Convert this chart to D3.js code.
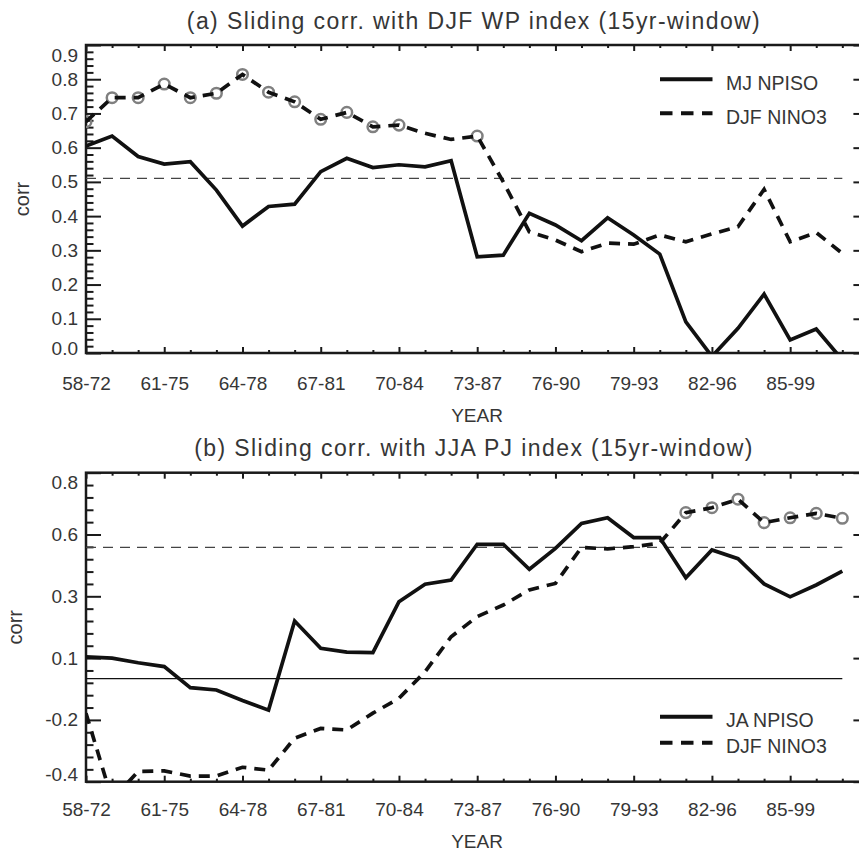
<!DOCTYPE html>
<meta charset="utf-8">
<style>
body { margin: 0; background: #fff; }
text { font-family: "Liberation Sans", Arial, sans-serif; fill: #363636; }
.frame { fill: none; stroke: #1a1a1a; stroke-width: 2.5px; }
.solid { fill: none; stroke: #111; stroke-width: 3.7px; }
.dashed { fill: none; stroke: #111; stroke-width: 3.7px; stroke-dasharray: 11,8; }
.ref { fill: none; stroke: #444; stroke-width: 1.2px; stroke-dasharray: 10,7; }
.zero { fill: none; stroke: #111; stroke-width: 1.3px; }
.sig { fill: none; stroke: #808080; stroke-width: 2.5px; }
</style>
<body>
<script src="https://d3js.org/d3.v7.min.js"></script>
<script>
// tick labels along the x axis (15-yr windows, one every 3 years)
var xTickLabels = ["58-72", "61-75", "64-78", "67-81", "70-84", "73-87", "76-90", "79-93", "82-96", "85-99"];

// (a) sliding corr. with DJF WP index
var wpNpiso = [0.605, 0.634, 0.574, 0.552, 0.559, 0.476, 0.371, 0.428, 0.435, 0.530,
               0.569, 0.542, 0.550, 0.544, 0.562, 0.281, 0.286, 0.408, 0.374, 0.328,
               0.395, 0.345, 0.289, 0.091, -0.01, 0.072, 0.172, 0.038, 0.070, -0.02];
var wpNino3 = [0.676, 0.746, 0.746, 0.786, 0.746, 0.759, 0.814, 0.762, 0.734, 0.683,
               0.703, 0.661, 0.666, 0.642, 0.624, 0.634, 0.500, 0.354, 0.330, 0.296,
               0.321, 0.318, 0.345, 0.325, 0.348, 0.369, 0.478, 0.325, 0.352, 0.291];
var wpNino3Sig = [0, 1, 2, 3, 4, 5, 6, 7, 8, 9, 10, 11, 12, 15];
var wpThreshold = 0.51;
var wpYTicks = [0, 0.1, 0.2, 0.3, 0.4, 0.5, 0.6, 0.7, 0.8, 0.9];
var wpYLabels = ["0.0", "0.1", "0.2", "0.3", "0.4", "0.5", "0.6", "0.7", "0.8", "0.9"];

// (b) sliding corr. with JJA PJ index
var pjNpiso = [0.085, 0.080, 0.062, 0.047, -0.035, -0.044, -0.085, -0.122, 0.224, 0.118,
               0.103, 0.101, 0.299, 0.367, 0.383, 0.522, 0.522, 0.425, 0.506, 0.603,
               0.625, 0.548, 0.548, 0.392, 0.500, 0.466, 0.368, 0.318, 0.364, 0.418];
var pjNino3 = [-0.134, -0.47, -0.36, -0.358, -0.378, -0.378, -0.344, -0.355, -0.231, -0.193,
               -0.199, -0.134, -0.076, 0.027, 0.163, 0.241, 0.286, 0.345, 0.370, 0.510,
               0.504, 0.513, 0.526, 0.645, 0.664, 0.697, 0.606, 0.625, 0.642, 0.623];
var pjNino3Sig = [23, 24, 25, 26, 27, 28, 29];
var pjThreshold = 0.51;
var pjYTicks = [-0.4, -0.16, 0.08, 0.32, 0.56, 0.8];
var pjYLabels = ["-0.4", "-0.2", "0.1", "0.3", "0.6", "0.8"];

var svg = d3.select("body").append("svg")
    .attr("width", 859)
    .attr("height", 851);

var nYears = 30;
var x = d3.scaleLinear().domain([0, nYears]).range([86, 868.4]);
var xMajor = d3.range(0, nYears + 1, 3);
var xMinor = d3.range(0, nYears + 1).filter(function(d) { return d % 3 != 0; });

function minorValues(ticks) {
  var out = [];
  for (var i = 0; i < ticks.length - 1; i++) {
    var step = (ticks[i + 1] - ticks[i]) / 5;
    for (var k = 1; k < 5; k++) out.push(ticks[i] + k * step);
  }
  return out;
}

function drawPanel(p) {
  var y = d3.scaleLinear().domain([p.yTicks[0], p.yTicks[p.yTicks.length - 1]]).range([p.bottom, p.top]);
  var g = svg.append("g");

  svg.append("clipPath").attr("id", "clip" + p.id)
    .append("rect")
      .attr("x", x(0)).attr("y", p.top)
      .attr("width", x(nYears) - x(0)).attr("height", p.bottom - p.top);

  // title
  g.append("text")
      .attr("x", 474).attr("y", p.top - 16.5)
      .attr("text-anchor", "middle")
      .style("font-size", "23px")
      .style("letter-spacing", "1.4px")
      .text(p.title);

  // axes: left with labels, right/top without
  var yMinor = minorValues(p.yTicks);
  var left = g.append("g").attr("transform", "translate(" + x(0) + ",0)")
      .call(d3.axisLeft(y).tickValues(p.yTicks).tickSizeInner(-15).tickSizeOuter(0).tickPadding(8)
        .tickFormat(function(d, i) { return p.yLabels[i]; }));
  left.selectAll(".tick text")
      .style("font-size", "19px")
      .attr("y", function(d, i) { return i == 0 ? p.lowShift : (i == p.yTicks.length - 1 ? 10 : 0); });
  g.append("g").attr("transform", "translate(" + x(0) + ",0)")
      .call(d3.axisLeft(y).tickValues(yMinor).tickSizeInner(-7.5).tickSizeOuter(0).tickFormat(""));
  g.append("g").attr("transform", "translate(" + x(nYears) + ",0)")
      .call(d3.axisRight(y).tickValues(p.yTicks).tickSizeInner(-15).tickSizeOuter(0).tickFormat(""));
  g.append("g").attr("transform", "translate(" + x(nYears) + ",0)")
      .call(d3.axisRight(y).tickValues(yMinor).tickSizeInner(-7.5).tickSizeOuter(0).tickFormat(""));

  var bottom = g.append("g").attr("transform", "translate(0," + p.bottom + ")")
      .call(d3.axisBottom(x).tickValues(xMajor).tickSizeInner(-6).tickSizeOuter(0)
        .tickFormat(function(d, i) { return xTickLabels[i] || ""; }));
  bottom.selectAll(".tick text")
      .style("font-size", "19px")
      .attr("y", p.xLabelGap).attr("dy", 0);
  g.append("g").attr("transform", "translate(0," + p.bottom + ")")
      .call(d3.axisBottom(x).tickValues(xMinor).tickSizeInner(-3).tickSizeOuter(0).tickFormat(""));
  g.append("g").attr("transform", "translate(0," + p.top + ")")
      .call(d3.axisTop(x).tickValues(xMajor).tickSizeInner(-6).tickSizeOuter(0).tickFormat(""));
  g.append("g").attr("transform", "translate(0," + p.top + ")")
      .call(d3.axisTop(x).tickValues(xMinor).tickSizeInner(-3).tickSizeOuter(0).tickFormat(""));

  g.selectAll(".domain").remove();
  g.selectAll(".tick line").attr("stroke", "#1a1a1a").attr("stroke-width", 2);

  g.append("rect").attr("class", "frame")
      .attr("x", x(0)).attr("y", p.top)
      .attr("width", x(nYears) - x(0)).attr("height", p.bottom - p.top);

  // axis titles
  g.append("text")
      .attr("x", 477).attr("y", p.bottom + p.xTitleGap)
      .attr("text-anchor", "middle")
      .style("font-size", "19px")
      .text("YEAR");
  g.append("text")
      .attr("transform", "translate(" + p.corrX + "," + ((p.top + p.bottom) / 2) + ") rotate(-90)")
      .attr("text-anchor", "middle")
      .style("font-size", "20px")
      .text("corr");

  var plot = g.append("g").attr("clip-path", "url(#clip" + p.id + ")");

  // significance line and zero line
  plot.append("line").attr("class", "ref")
      .attr("x1", x(0)).attr("x2", x(nYears - 1))
      .attr("y1", y(p.threshold)).attr("y2", y(p.threshold));
  if (p.zeroLine) {
    plot.append("line").attr("class", "zero")
        .attr("x1", x(0)).attr("x2", x(nYears - 1))
        .attr("y1", y(0)).attr("y2", y(0));
  }

  var line = d3.line()
      .x(function(d, i) { return x(i); })
      .y(function(d) { return y(d); });

  plot.selectAll("circle.sig")
      .data(p.sig)
    .enter().append("circle")
      .attr("class", "sig")
      .attr("cx", function(i) { return x(i); })
      .attr("cy", function(i) { return y(p.nino3[i]); })
      .attr("r", 5.3);

  plot.append("path").datum(p.npiso).attr("class", "solid").attr("d", line);
  plot.append("path").datum(p.nino3).attr("class", "dashed").attr("d", line);

  // legend
  var lg = g.append("g");
  lg.append("line").attr("class", "solid").style("stroke-width", "4px")
      .attr("x1", 660).attr("x2", 712.5).attr("y1", p.legendY[0]).attr("y2", p.legendY[0]);
  lg.append("line").attr("class", "dashed").style("stroke-width", "4px").style("stroke-dasharray", "12.5,8.5")
      .attr("x1", 660).attr("x2", 712.5).attr("y1", p.legendY[1]).attr("y2", p.legendY[1]);
  lg.selectAll("text.leg")
      .data(p.legend)
    .enter().append("text")
      .attr("x", 726)
      .attr("y", function(d, i) { return p.legendY[i] + 4; })
      .attr("dy", "0.32em")
      .style("font-size", "19.5px")
      .text(function(d) { return d; });
}

drawPanel({
  id: "a", top: 45, bottom: 353,
  title: "(a) Sliding corr. with DJF WP index (15yr-window)",
  yTicks: wpYTicks, yLabels: wpYLabels, lowShift: -5,
  npiso: wpNpiso, nino3: wpNino3, sig: wpNino3Sig, threshold: wpThreshold,
  zeroLine: false, legend: ["MJ NPISO", "DJF NINO3"], legendY: [79.3, 113.3],
  xLabelGap: 37, xTitleGap: 68.5, corrX: 28.5
});

drawPanel({
  id: "b", top: 472.7, bottom: 781.7,
  title: "(b) Sliding corr. with JJA PJ index (15yr-window)",
  yTicks: pjYTicks, yLabels: pjYLabels, lowShift: -7,
  npiso: pjNpiso, nino3: pjNino3, sig: pjNino3Sig, threshold: pjThreshold,
  zeroLine: true, legend: ["JA NPISO", "DJF NINO3"], legendY: [716.7, 742.7],
  xLabelGap: 34.5, xTitleGap: 66.5, corrX: 22
});
</script>
</body>
